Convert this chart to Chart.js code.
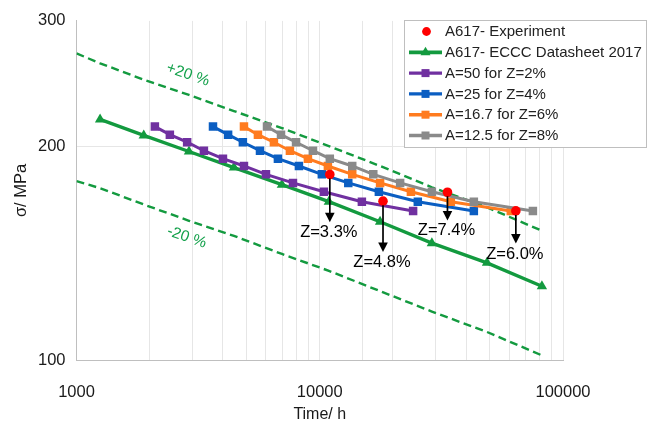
<!DOCTYPE html>
<html>
<head>
<meta charset="utf-8">
<script src="https://cdn.jsdelivr.net/npm/chart.js@4.4.1/dist/chart.umd.min.js"></script>
<style>
  html, body { margin: 0; padding: 0; background: #ffffff; }
  canvas { display: block; }
</style>
</head>
<body>
<canvas id="chart" width="670" height="429"></canvas>
<script>
// ---- axis ranges and tick labels ----
const xMin = 1000, xMax = 100000;
const yMin = 100, yMax = 300;
const xTickLabels = [1000, 10000, 100000];
const yTickValues = [100, 200, 300];

// ---- ECCC datasheet curve (time in h, stress in MPa) ----
const ecccTimes  = [1250, 1890, 2900, 4440, 6990, 10900, 17700, 28900, 48700, 81900];
const ecccStress = [218, 207, 196.5, 186.5, 176.5, 167, 156.5, 146, 137, 127];

// ---- +/-20 % scatter band ----
const bandTimes       = [1000, 1250, 1890, 2900, 4440, 6990, 10900, 17700, 28900, 48700, 81900];
const upperBandStress = [270, 261.5, 248, 236, 224, 212, 200, 187.5, 175, 164, 152];
const lowerBandStress = [178.5, 174.5, 165.5, 157, 149.5, 141, 133.5, 125, 117, 109.5, 101.5];

// ---- model predictions, shared stress levels ----
const modelStress = [213, 207.5, 202.5, 197, 192, 187.5, 182.5, 177.5, 172.5, 167, 162];
const timesA50   = [2100, 2420, 2850, 3340, 4000, 4880, 6010, 7760, 10400, 14900, 24200];
const timesA25   = [3640, 4200, 4830, 5680, 6730, 8210, 10200, 13100, 17500, 25300, 43000];
const timesA16_7 = [4880, 5570, 6480, 7540, 8940, 10800, 13600, 17700, 23700, 34600, 61000];
const timesA12_5 = [6070, 6930, 7990, 9380, 11000, 13600, 16600, 21400, 28900, 43000, 75200];

// ---- experiments with measured reduction of area ----
const expTimes   = [11000, 18200, 33500, 64000];
const expStress  = [182.4, 167.3, 172.2, 162.1];
const expLabels  = ['Z=3.3%', 'Z=4.8%', 'Z=7.4%', 'Z=6.0%'];
const expArrowTo = [156.3, 141.9, 157.2, 145.8];

// ---- band captions (anchor time, anchor stress) ----
const bandCaptions = [
  { text: '+20 %', t: 2870, s: 252 },
  { text: '-20 %', t: 2840, s: 148.8 }
];

const FONT = "'Liberation Sans', Arial, sans-serif";
const GREEN = '#139A3F';
const pts = (xs, ys) => xs.map((x, i) => ({ x: x, y: ys[i] }));

function modelSet(label, times, color, order, legendRow) {
  return {
    label: label, data: pts(times, modelStress), showLine: true,
    borderColor: color, backgroundColor: color, borderWidth: 3,
    pointStyle: 'rect', pointRadius: 6, pointBorderWidth: 0,
    pointBackgroundColor: color, order: order, legendRow: legendRow, marker: 'rect'
  };
}

const datasets = [
  {
    label: 'A617- Experiment', data: pts(expTimes, expStress), showLine: false,
    pointStyle: 'circle', pointRadius: 4.8, pointBorderWidth: 0,
    pointBackgroundColor: '#FF0000', backgroundColor: '#FF0000', borderColor: '#FF0000',
    order: 0, legendRow: 0, marker: 'dot'
  },
  modelSet('A=12.5 for Z=8%', timesA12_5, '#8A8A8A', 1, 5),
  modelSet('A=16.7 for Z=6%', timesA16_7, '#FF7B1F', 2, 4),
  modelSet('A=25 for Z=4%', timesA25, '#0B5EC2', 3, 3),
  modelSet('A=50 for Z=2%', timesA50, '#7030A0', 4, 2),
  {
    label: 'A617- ECCC Datasheet 2017', data: pts(ecccTimes, ecccStress), showLine: true,
    borderColor: GREEN, backgroundColor: GREEN, borderWidth: 3.4,
    pointStyle: 'triangle', pointRadius: 6, pointBorderWidth: 0,
    pointBackgroundColor: GREEN, order: 5, legendRow: 1, marker: 'triangle'
  },
  {
    label: '+20 %', data: pts(bandTimes, upperBandStress), showLine: true,
    borderColor: GREEN, borderWidth: 2.4, borderDash: [8, 4.5], pointRadius: 0, order: 6
  },
  {
    label: '-20 %', data: pts(bandTimes, lowerBandStress), showLine: true,
    borderColor: GREEN, borderWidth: 2.4, borderDash: [8, 4.5], pointRadius: 0, order: 6
  }
];

// arrows with Z labels below each experiment, plus band captions
const annotationPlugin = {
  id: 'zAnnotations',
  afterDatasetsDraw(chart) {
    const { ctx, scales: { x, y } } = chart;
    ctx.save();
    expTimes.forEach((t, i) => {
      const px = x.getPixelForValue(t);
      const y0 = y.getPixelForValue(expStress[i]) + 4;
      const y1 = y.getPixelForValue(expArrowTo[i]);
      ctx.strokeStyle = '#000'; ctx.fillStyle = '#000'; ctx.lineWidth = 1.7;
      ctx.beginPath(); ctx.moveTo(px, y0); ctx.lineTo(px, y1 - 8); ctx.stroke();
      ctx.beginPath();
      ctx.moveTo(px - 4.8, y1 - 9.5); ctx.lineTo(px + 4.8, y1 - 9.5); ctx.lineTo(px, y1);
      ctx.closePath(); ctx.fill();
      ctx.font = '16.5px ' + FONT;
      ctx.textAlign = 'center'; ctx.textBaseline = 'middle';
      ctx.fillText(expLabels[i], px - 1, y1 + 10.5);
    });
    bandCaptions.forEach(c => {
      ctx.save();
      ctx.translate(x.getPixelForValue(c.t), y.getPixelForValue(c.s));
      ctx.rotate(19 * Math.PI / 180);
      ctx.font = '15.5px ' + FONT; ctx.fillStyle = '#12A04A';
      ctx.textAlign = 'center'; ctx.textBaseline = 'middle';
      ctx.fillText(c.text, 0, 0);
      ctx.restore();
    });
    ctx.restore();
  }
};

// boxed legend in the upper right
const boxLegendPlugin = {
  id: 'boxLegend',
  afterDraw(chart) {
    const ctx = chart.ctx;
    const bx = 404.5, by = 20.5, bw = 242, bh = 127;
    ctx.save();
    ctx.fillStyle = '#fff'; ctx.fillRect(bx, by, bw, bh);
    ctx.strokeStyle = '#BFBFBF'; ctx.lineWidth = 1; ctx.strokeRect(bx, by, bw, bh);
    const rows = chart.data.datasets.filter(d => d.legendRow !== undefined)
      .sort((a, b) => a.legendRow - b.legendRow);
    rows.forEach(d => {
      const cy = 31.5 + d.legendRow * 20.8;
      const col = d.pointBackgroundColor;
      if (d.showLine) {
        ctx.strokeStyle = d.borderColor; ctx.lineWidth = d.borderWidth + 0.4;
        ctx.beginPath(); ctx.moveTo(409, cy); ctx.lineTo(442, cy); ctx.stroke();
      }
      ctx.fillStyle = col;
      const mx = 425.5;
      if (d.marker === 'dot') {
        ctx.beginPath(); ctx.arc(mx + 1, cy, 4.4, 0, Math.PI * 2); ctx.fill();
      } else if (d.marker === 'rect') {
        ctx.fillRect(mx - 4, cy - 4, 8, 8);
      } else if (d.marker === 'triangle') {
        ctx.beginPath(); ctx.moveTo(mx, cy - 5.5); ctx.lineTo(mx + 5, cy + 3); ctx.lineTo(mx - 5, cy + 3);
        ctx.closePath(); ctx.fill();
      }
      ctx.fillStyle = '#222'; ctx.font = '15px ' + FONT;
      ctx.textAlign = 'left'; ctx.textBaseline = 'middle';
      ctx.fillText(d.label, 445, cy + 0.5);
    });
    ctx.restore();
  }
};

const isPow10 = v => Math.abs(Math.log10(v) - Math.round(Math.log10(v))) < 1e-9;

new Chart(document.getElementById('chart'), {
  type: 'scatter',
  data: { datasets: datasets },
  plugins: [annotationPlugin, boxLegendPlugin],
  options: {
    responsive: false, animation: false, devicePixelRatio: 1,
    layout: { padding: { top: 20, right: 107, left: 0, bottom: 0 } },
    plugins: { legend: { display: false }, tooltip: { enabled: false } },
    scales: {
      x: {
        type: 'logarithmic', min: xMin, max: xMax, position: 'bottom',
        grid: { color: '#E6E6E6', lineWidth: 1, drawTicks: false },
        border: { color: '#BFBFBF', width: 1 },
        ticks: {
          autoSkip: false, maxRotation: 0, padding: 23, color: '#1a1a1a',
          font: { family: FONT, size: 16.5 },
          callback: v => (isPow10(v) && xTickLabels.includes(Math.round(v))) ? String(Math.round(v)) : ''
        },
        title: { display: true, text: 'Time/ h', color: '#1a1a1a', font: { family: FONT, size: 16 }, padding: { top: 0, bottom: 5 } },
        afterFit: s => { s.height = 69; }
      },
      y: {
        type: 'logarithmic', min: yMin, max: yMax, position: 'left',
        afterBuildTicks: s => { s.ticks = yTickValues.map(v => ({ value: v })); },
        grid: {
          color: c => (c.tick && c.tick.value === 200) ? '#E6E6E6' : 'rgba(0,0,0,0)',
          drawTicks: false
        },
        border: { color: '#BFBFBF', width: 1 },
        ticks: { padding: 11, color: '#1a1a1a', font: { family: FONT, size: 16.5 }, callback: v => String(v) },
        title: { display: true, text: 'σ/ MPa', color: '#1a1a1a', font: { family: FONT, size: 16.5 }, padding: { top: 12, bottom: 0 } },
        afterFit: s => { s.width = 76.5; }
      }
    }
  }
});
</script>
</body>
</html>
